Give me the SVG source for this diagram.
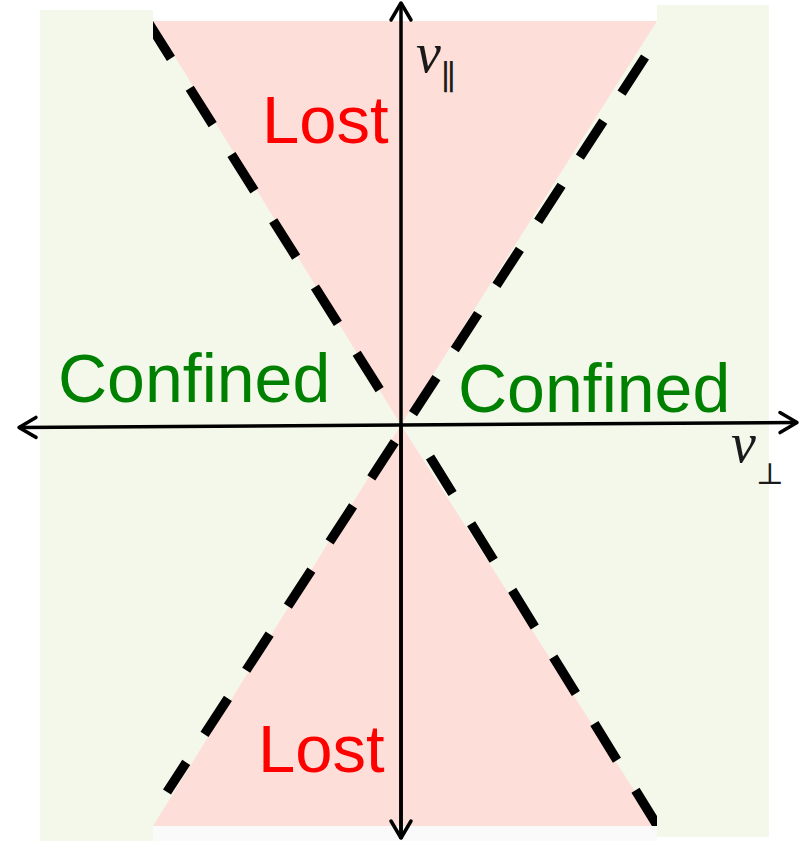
<svg xmlns="http://www.w3.org/2000/svg" width="808" height="841" viewBox="0 0 808 841">
  <defs>
    <style>
      .green { fill: #F4F8EA; }
      .pink { fill: #FDDED8; }
      .axis { stroke: #000; stroke-width: 3.5; fill: none; }
      .dash { stroke: #000; stroke-width: 9.5; fill: none; }
      .lost { font-family: "Liberation Sans", Arial, sans-serif; font-size: 67px; fill: #FF0000; }
      .conf { font-family: "Liberation Sans", Arial, sans-serif; font-size: 68px; fill: #008000; }
      .var { font-family: "Liberation Serif", "DejaVu Serif", serif; font-style: italic; font-size: 56px; fill: #1a1a1a; }
      .sub { font-family: "DejaVu Serif", "Liberation Serif", serif; font-style: normal; fill: #1a1a1a; }
    </style>
    <marker id="arrow" markerUnits="userSpaceOnUse" markerWidth="30" markerHeight="30" viewBox="-25 -15 30 30" refX="0" refY="0" orient="auto" overflow="visible">
      <path d="M-17,-10 L0,0 L-17,10" fill="none" stroke="#000" stroke-width="3.5" stroke-linecap="round" stroke-linejoin="round"/>
    </marker>
    <clipPath id="mid">
      <rect x="153" y="21" width="504" height="805"/>
    </clipPath>
  </defs>

  <g id="background">
    <rect class="green" x="40" y="10" width="113" height="831"/>
    <rect class="green" x="657" y="5" width="112" height="832"/>
    <rect class="green" x="153" y="21" width="504" height="805"/>
    <rect x="153" y="826" width="504" height="15" fill="#FAFAFA"/>
  </g>

  <g id="lost-top-region">
    <polygon class="pink" points="153,21 657,21 401,425"/>
  </g>
  <g id="lost-bottom-region">
    <polygon class="pink" points="401,425 153,826 657,826"/>
  </g>

  <g id="connectors">
    <g clip-path="url(#mid)">
      <line class="dash" x1="148" y1="22" x2="383" y2="395" stroke-dasharray="43 35.3"/>
      <line class="dash" x1="430" y1="457" x2="660" y2="830" stroke-dasharray="43 35.3"/>
      <line class="dash" x1="645" y1="57" x2="167" y2="792" stroke-dasharray="43 33.5"/>
    </g>
    <line class="axis" x1="401" y1="839" x2="401" y2="3" marker-end="url(#arrow)"/>
    <line class="axis" x1="401" y1="425" x2="401" y2="838" marker-end="url(#arrow)"/>
    <line class="axis" x1="400" y1="425" x2="797" y2="422.5" marker-end="url(#arrow)"/>
    <line class="axis" x1="400" y1="425" x2="19" y2="427.5" marker-end="url(#arrow)"/>
  </g>

  <g id="label-lost-top">
    <text class="lost" x="262" y="143">Lost</text>
  </g>
  <g id="label-lost-bottom">
    <text class="lost" x="258" y="772">Lost</text>
  </g>
  <g id="label-confined-left">
    <text class="conf" x="58" y="402">Confined</text>
  </g>
  <g id="label-confined-right">
    <text class="conf" x="458" y="412">Confined</text>
  </g>
  <g id="label-v-parallel">
    <text class="var" x="416" y="72">v<tspan class="sub" font-size="34" dy="17">∥</tspan></text>
  </g>
  <g id="label-v-perp">
    <text class="var" x="731" y="462">v<tspan class="sub" font-size="30" dy="22">⊥</tspan></text>
  </g>
</svg>
